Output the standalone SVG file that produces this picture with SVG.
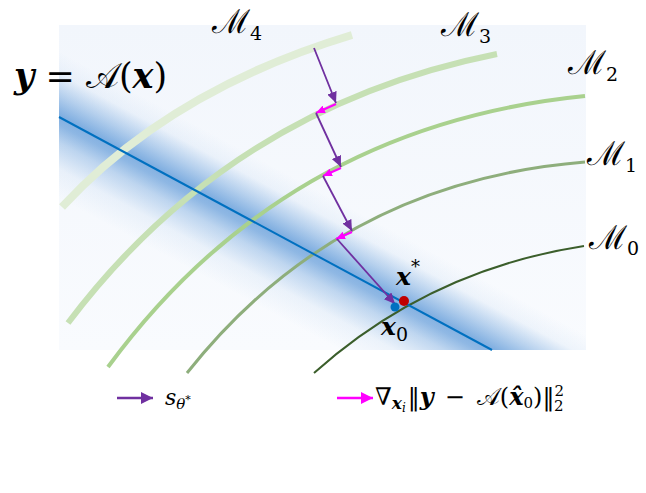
<svg xmlns="http://www.w3.org/2000/svg" width="646" height="493" viewBox="0 0 646 493">
<defs>
<style>
.t{font-family:"DejaVu Serif","Liberation Serif",serif;fill:#000}
.bi{font-weight:bold;font-style:italic}
.it{font-style:italic}
.cur{fill:none;stroke-linecap:butt}
.pa{stroke:#7030a0;stroke-width:1.8;fill:none;marker-end:url(#hp)}
.ma{stroke:#ff00ff;stroke-width:2;fill:none;marker-end:url(#hm)}
</style>
<linearGradient id="bg" x1="0" y1="0" x2="0" y2="1">
<stop offset="0" stop-color="#f2f6fc"/>
<stop offset="1" stop-color="#f9fbfe"/>
</linearGradient>
<linearGradient id="band" x1="0" y1="0" x2="0" y2="1">
<stop offset="0" stop-color="#3a82cf" stop-opacity="0"/>
<stop offset="0.15" stop-color="#3a82cf" stop-opacity="0.06"/>
<stop offset="0.3" stop-color="#3a82cf" stop-opacity="0.35"/>
<stop offset="0.43" stop-color="#3a82cf" stop-opacity="0.62"/>
<stop offset="0.5" stop-color="#3a82cf" stop-opacity="0.55"/>
<stop offset="0.62" stop-color="#3a82cf" stop-opacity="0.3"/>
<stop offset="0.8" stop-color="#3a82cf" stop-opacity="0.07"/>
<stop offset="1" stop-color="#3a82cf" stop-opacity="0"/>
</linearGradient>
<clipPath id="bgclip"><rect x="59" y="25" width="527" height="325"/></clipPath>
<marker id="hp" markerUnits="userSpaceOnUse" markerWidth="12" markerHeight="10" refX="11" refY="5" orient="auto"><path d="M0,0 L11,5 L0,10 z" fill="#7030a0"/></marker>
<marker id="hm" markerUnits="userSpaceOnUse" markerWidth="10" markerHeight="8" refX="9" refY="4" orient="auto"><path d="M0,0 L9,4 L0,8 z" fill="#ff00ff"/></marker>
<marker id="hpl" markerUnits="userSpaceOnUse" markerWidth="13" markerHeight="12" refX="12" refY="6" orient="auto"><path d="M0,0 L12,6 L0,12 z" fill="#7030a0"/></marker>
<marker id="hml" markerUnits="userSpaceOnUse" markerWidth="13" markerHeight="12" refX="12" refY="6" orient="auto"><path d="M0,0 L12,6 L0,12 z" fill="#ff00ff"/></marker>
</defs>
<rect width="646" height="493" fill="#ffffff"/>
<g id="background">
<rect x="59" y="25" width="527" height="325" fill="url(#bg)"/>
<g clip-path="url(#bgclip)">
<rect x="-300" y="-58" width="1200" height="130" transform="translate(59,117) rotate(28.28)" fill="url(#band)"/>
</g>
</g>
<g id="manifolds">
<path id="M4" class="cur" d="M62,207 Q170,90 352,35" stroke="#e0edd6" stroke-width="8"/>
<path id="M3" class="cur" d="M68,323 Q231,107 497,54" stroke="#c6e0b4" stroke-width="6"/>
<path id="M2" class="cur" d="M108,367 Q285,126 585,96" stroke="#a9d18e" stroke-width="4"/>
<path id="M1" class="cur" d="M187,373 Q338,182 585,162" stroke="#8eae7c" stroke-width="3"/>
<path id="M0" class="cur" d="M314,373 Q429,270 584,246" stroke="#3b5e2b" stroke-width="2"/>
</g>
<g id="constraint-line">
<line x1="59" y1="117" x2="492" y2="350" stroke="#0070c0" stroke-width="2"/>
</g>
<g id="connectors">
<line class="pa" x1="314" y1="48" x2="336" y2="103"/>
<line class="ma" x1="336" y1="104" x2="316" y2="113"/>
<line class="pa" x1="316" y1="113" x2="341" y2="167"/>
<line class="ma" x1="341" y1="168" x2="323" y2="176"/>
<line class="pa" x1="323" y1="176" x2="352" y2="231"/>
<line class="ma" x1="352" y1="232" x2="336" y2="239"/>
<line class="pa" x1="337" y1="239" x2="395" y2="304"/>
</g>
<g id="points">
<circle id="x0" cx="395" cy="307" r="4.5" fill="#0070c0"/>
<circle id="xstar" cx="404" cy="301" r="5" fill="#c00000"/>
</g>
<g id="labels">
<text class="t" x="14" y="88" font-size="35"><tspan class="bi">y</tspan> = 𝒜(<tspan class="bi">x</tspan>)</text>
<text class="t" x="212" y="33" font-size="33">ℳ<tspan font-size="19" dy="7">4</tspan></text>
<text class="t" x="441" y="36" font-size="33">ℳ<tspan font-size="19" dy="7">3</tspan></text>
<text class="t" x="568" y="74" font-size="33">ℳ<tspan font-size="19" dy="7">2</tspan></text>
<text class="t" x="587" y="165" font-size="33">ℳ<tspan font-size="19" dy="7">1</tspan></text>
<text class="t" x="589" y="249" font-size="33">ℳ<tspan font-size="19" dy="6">0</tspan></text>
<text class="t" x="396" y="285" font-size="25"><tspan class="bi">x</tspan><tspan font-size="18" dy="-12">*</tspan></text>
<text class="t" x="381" y="335" font-size="25"><tspan class="bi">x</tspan><tspan font-size="19" dy="6">0</tspan></text>
</g>
<g id="legend">
<line x1="117" y1="398" x2="153" y2="398" stroke="#7030a0" stroke-width="2.5" marker-end="url(#hpl)"/>
<text class="t" x="165" y="405" font-size="22"><tspan class="it">s</tspan><tspan class="it" font-size="15" dy="4">θ</tspan><tspan font-size="11" dy="-6">*</tspan></text>
<line x1="337" y1="398" x2="373" y2="398" stroke="#ff00ff" stroke-width="2.5" marker-end="url(#hml)"/>
<text class="t" x="375" y="405" font-size="24">∇<tspan class="bi" font-size="17" dy="4">x</tspan><tspan class="it" font-size="12" dy="3">i</tspan><tspan dy="-7" dx="2">‖</tspan><tspan class="bi">y</tspan><tspan dx="11">−</tspan><tspan dx="12">𝒜(</tspan><tspan class="bi">x̂</tspan><tspan font-size="15" dy="3">0</tspan><tspan dy="-3">)‖</tspan><tspan font-size="15" dy="-9">2</tspan><tspan font-size="15" dx="-10" dy="15">2</tspan></text>
</g>
</svg>
